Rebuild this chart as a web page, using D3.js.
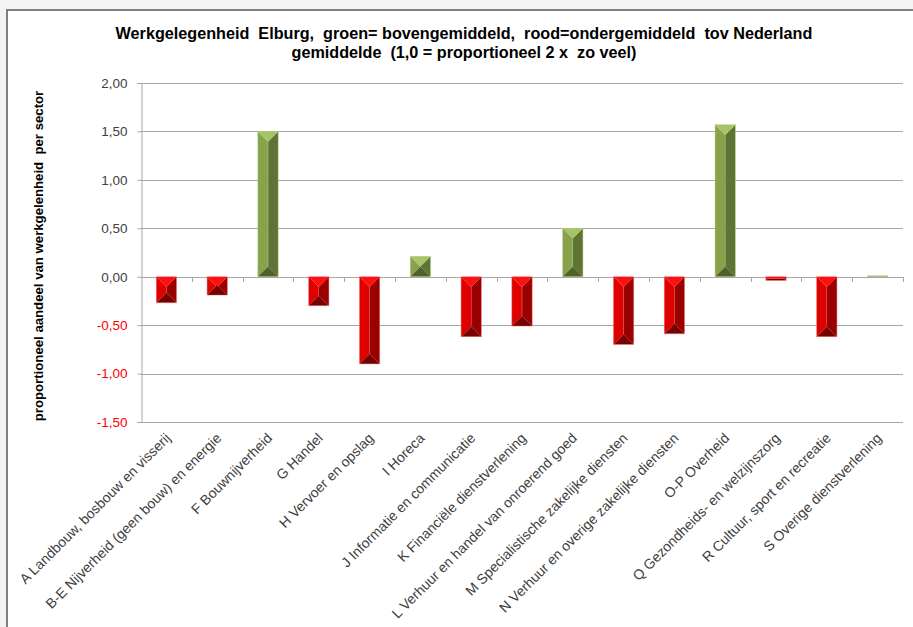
<!DOCTYPE html>
<html>
<head>
<meta charset="utf-8">
<script src="https://cdn.jsdelivr.net/npm/d3@7"></script>
<style>
  html, body { margin: 0; padding: 0; background: #f3f3f3; }
  svg { display: block; font-family: "Liberation Sans", Arial, sans-serif; }
  text { white-space: pre; }
</style>
</head>
<body>
<svg id="chart" width="913" height="627"></svg>
<script>
// Sectors (SBI groups) and their relative employment share vs. the Dutch average
const sectors = [
  "A Landbouw, bosbouw en visserij",
  "B-E Nijverheid (geen bouw) en energie",
  "F Bouwnijverheid",
  "G Handel",
  "H Vervoer en opslag",
  "I Horeca",
  "J Informatie en communicatie",
  "K Financiële dienstverlening",
  "L Verhuur en handel van onroerend goed",
  "M Specialistische zakelijke diensten",
  "N Verhuur en overige zakelijke diensten",
  "O-P Overheid",
  "Q Gezondheids- en welzijnszorg",
  "R Cultuur, sport en recreatie",
  "S Overige dienstverlening"
];
const values = [-0.27, -0.19, 1.50, -0.30, -0.90, 0.21, -0.62, -0.51, 0.50, -0.70, -0.59, 1.57, -0.04, -0.62, 0.01];
const yTicks = [2.0, 1.5, 1.0, 0.5, 0.0, -0.5, -1.0, -1.5];
const titleLines = [
  "Werkgelegenheid  Elburg,  groen= bovengemiddeld,  rood=ondergemiddeld  tov Nederland",
  "gemiddelde  (1,0 = proportioneel 2 x  zo veel)"
];
const yTitle = "proportioneel aandeel van werkgelenheid  per sector";

const svg = d3.select("#chart");

// chart frame
svg.append("rect").attr("x", 7).attr("y", 10).attr("width", 920).attr("height", 640)
  .attr("fill", "#ffffff").attr("stroke", "#7f7f7f").attr("stroke-width", 2);

const plotL = 141, plotR = 903, plotT = 83, plotB = 422;

const x = d3.scaleBand().domain(sectors).range([plotL, plotR]).paddingInner(0.6).paddingOuter(0.3);
const xb = d3.scaleBand().domain(sectors).range([plotL, plotR]);
const y = d3.scaleLinear().domain([-1.5, 2.0]).range([plotB, plotT]);

const nl = d3.formatLocale({ decimal: ",", thousands: ".", grouping: [3], currency: ["€", ""], minus: "-" });
const fmt = nl.format(".2f");

// horizontal gridlines
svg.append("g").selectAll("line").data(yTicks).join("line")
  .attr("x1", plotL).attr("x2", plotR)
  .attr("y1", d => Math.round(y(d)) + 0.5).attr("y2", d => Math.round(y(d)) + 0.5)
  .attr("stroke", "#a6a6a6").attr("stroke-width", 1);

// y axis
const yAxis = svg.append("g").attr("transform", `translate(${plotL + 0.5},0)`)
  .call(d3.axisLeft(y).tickValues(yTicks).tickFormat(fmt).tickSize(4).tickPadding(10));
yAxis.select(".domain").attr("stroke", "#a6a6a6");
yAxis.selectAll(".tick line").attr("stroke", "#a6a6a6");
yAxis.selectAll(".tick text")
  .attr("font-family", "Liberation Sans, Arial, sans-serif")
  .attr("font-size", 13.5)
  .attr("fill", d => d < 0 ? "#ff0000" : "#404040");

// category ticks on the zero line
svg.append("g").selectAll("line").data(sectors).join("line")
  .attr("x1", d => Math.round(xb(d) + xb.bandwidth()) + 0.5)
  .attr("x2", d => Math.round(xb(d) + xb.bandwidth()) + 0.5)
  .attr("y1", Math.round(y(0))).attr("y2", Math.round(y(0)) + 5)
  .attr("stroke", "#a6a6a6");

// bevelled bars
const palette = {
  pos: { top: "#a5c464", left: "#87a24b", right: "#5e7434", bottom: "#4e6129", edge: "#b9d08a" },
  neg: { top: "#ff1010", left: "#df0000", right: "#9a0000", bottom: "#780000", edge: "#e88080" }
};
const bars = svg.append("g");
sectors.forEach((s, i) => {
  const v = values[i];
  const x0 = x(s), x1 = x(s) + x.bandwidth();
  const yT = Math.min(y(v), y(0)), yB = Math.max(y(v), y(0));
  const w = x1 - x0, h = yB - yT;
  const b = Math.min(w / 2, h / 2, 10);
  const c = v >= 0 ? palette.pos : palette.neg;
  const g = bars.append("g");
  const poly = (pts, fill) => g.append("polygon").attr("points", pts.map(p => p.join(",")).join(" ")).attr("fill", fill);
  poly([[x0 + b, yT + b], [x1 - b, yT + b], [x1 - b, yB - b], [x0 + b, yB - b]], c.left);
  poly([[x0, yT], [x0 + b, yT + b], [x0 + b, yB - b], [x0, yB]], c.left);
  poly([[x1, yT], [x1 - b, yT + b], [x1 - b, yB - b], [x1, yB]], c.right);
  poly([[x0, yB], [x1, yB], [x1 - b, yB - b], [x0 + b, yB - b]], c.bottom);
  poly([[x0, yT], [x1, yT], [x1 - b, yT + b], [x0 + b, yT + b]], c.top);
  g.append("rect").attr("x", x0).attr("y", yT).attr("width", w).attr("height", h)
    .attr("fill", "none").attr("stroke", c.edge).attr("stroke-width", 0.6).attr("stroke-opacity", 0.8);
});

// category labels
svg.append("g").selectAll("text").data(sectors).join("text")
  .attr("transform", d => `translate(${xb(d) + xb.bandwidth() / 2 + 5},${439}) rotate(-45)`)
  .attr("text-anchor", "end")
  .attr("font-size", 14)
  .attr("fill", "#404040")
  .text(d => d);

// y axis title
svg.append("text")
  .attr("transform", `translate(43,256) rotate(-90)`)
  .attr("text-anchor", "middle")
  .attr("font-size", 13.2).attr("font-weight", "bold").attr("fill", "#000")
  .text(yTitle);

// chart title
svg.append("g").selectAll("text").data(titleLines).join("text")
  .attr("x", 464).attr("y", (d, i) => 39 + i * 19)
  .attr("text-anchor", "middle")
  .attr("font-size", 16.2).attr("font-weight", "bold").attr("fill", "#000")
  .text(d => d);
</script>
</body>
</html>
